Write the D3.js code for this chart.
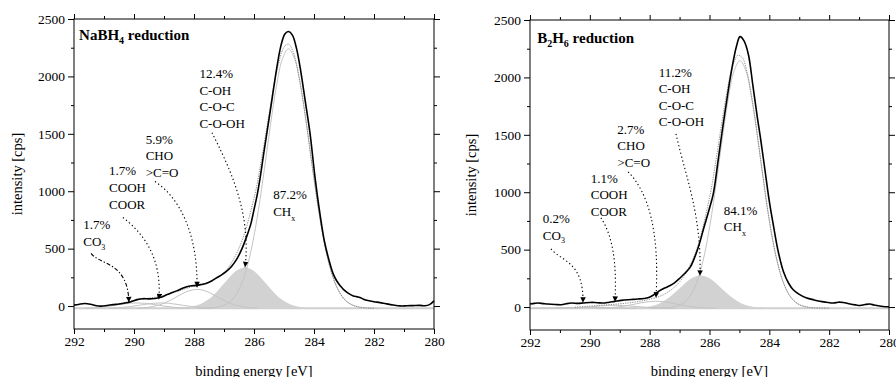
<!DOCTYPE html>
<html><head><meta charset="utf-8">
<script src="https://cdn.jsdelivr.net/npm/d3@7"></script>
<style>
body{margin:0;background:#fff}
svg text{font-family:"Liberation Serif","Times New Roman",serif;fill:#000}
</style></head><body>
<svg id="chart" width="896" height="377"></svg>
<script>
// ---------- shared axis data ----------
const xDomain = [292, 280];
const yDomain = [-200, 2500];
const xMajorTicks = [292, 290, 288, 286, 284, 282, 280];
const xMinorTicks = [291, 289, 287, 285, 283, 281];
const yMajorTicks = [0, 500, 1000, 1500, 2000, 2500];
const yMinorTicks = [250, 750, 1250, 1750, 2250];
const xTitle = "binding energy [eV]";
const yTitle = "intensity [cps]";

// ---------- left panel: NaBH4 reduction ([binding energy, intensity]) ----------
const leftTitle = "NaBH_4 reduction";
const leftBaseline = -20;
const leftMeasured = [[292.0,8],[291.85,14],[291.65,22],[291.45,16],[291.25,2],[291.1,-1],[290.9,5],[290.7,12],[290.5,18],[290.3,26],[290.1,38],[289.9,56],[289.7,64],[289.5,62],[289.3,66],[289.1,76],[288.9,100],[288.75,115],[288.58,132],[288.4,152],[288.24,168],[288.08,176],[287.91,180],[287.75,188],[287.58,198],[287.4,220],[287.24,247],[287.08,272],[286.91,304],[286.75,345],[286.58,406],[286.4,500],[286.24,609],[286.1,720],[286.0,840],[285.9,960],[285.8,1110],[285.68,1320],[285.54,1560],[285.4,1800],[285.25,2060],[285.1,2270],[284.97,2370],[284.85,2391],[284.72,2360],[284.58,2240],[284.45,2060],[284.3,1800],[284.13,1500],[283.97,1130],[283.8,800],[283.65,560],[283.5,400],[283.36,280],[283.24,218],[283.12,175],[283.02,145],[282.85,110],[282.69,88],[282.55,80],[282.47,74],[282.35,60],[282.24,50],[282.0,38],[281.8,30],[281.6,20],[281.36,9],[281.13,1],[280.9,2],[280.7,4],[280.47,6],[280.3,2],[280.15,12],[280.0,45]];
const leftSum = [[290.5,18],[290.0,48],[289.5,69],[289.0,91],[288.5,132],[288.0,175],[287.5,207],[287.0,290],[286.5,505],[286.0,938],[285.75,1278],[285.5,1669],[285.25,2033],[285.0,2255],[284.85,2282],[284.7,2218],[284.5,2001],[284.25,1584],[284.0,1108],[283.75,684],[283.5,370],[283.25,172],[283.0,63],[282.75,12],[282.5,-9],[282.0,-20]];
const leftCH = [[287.85,-20],[287.45,-17],[287.15,-6],[286.85,27],[286.65,79],[286.45,172],[286.25,321],[286.05,543],[285.85,841],[285.65,1199],[285.45,1579],[285.25,1918],[285.05,2155],[284.85,2241],[284.65,2155],[284.45,1918],[284.25,1579],[284.05,1199],[283.85,841],[283.65,543],[283.45,321],[283.25,172],[283.05,79],[282.85,27],[282.55,-6],[282.25,-17],[281.85,-20]];
const leftCO = [[288.7,-19],[288.3,-14],[288.05,-4],[287.8,15],[287.55,52],[287.3,108],[287.05,180],[286.8,255],[286.55,313],[286.3,335],[286.05,313],[285.8,255],[285.55,180],[285.3,108],[285.05,52],[284.8,15],[284.55,-4],[284.3,-14],[283.9,-19]];
const leftCHO = [[289.9,-18],[289.65,-14],[289.4,-5.5],[289.15,10.5],[288.9,36],[288.65,70],[288.4,106],[288.15,134],[287.9,145],[287.65,134],[287.4,106],[287.15,70],[286.9,36],[286.65,10.5],[286.4,-5.5],[286.15,-14],[285.9,-18]];
const leftCOOH = [[290.85,-18.3],[290.6,-15.9],[290.35,-11.3],[290.1,-4.1],[289.85,5.6],[289.6,15.9],[289.35,24],[289.1,27],[288.85,24],[288.6,15.9],[288.35,5.6],[288.1,-4.1],[287.85,-11.3],[287.6,-15.9],[287.35,-18.3]];
const leftCO3 = [[291.65,-18.3],[291.4,-15.9],[291.15,-11.3],[290.9,-4.1],[290.65,5.6],[290.4,15.9],[290.15,24],[289.9,27],[289.65,24],[289.4,15.9],[289.15,5.6],[288.9,-4.1],[288.65,-11.3],[288.4,-15.9],[288.15,-18.3]];
const leftLabels = [
  {e:287.82, v:1986, lines:["12.4%","C-OH","C-O-C","C-O-OH"]},
  {e:289.61, v:1415, lines:["5.9%","CHO",">C=O"]},
  {e:290.83, v:1137, lines:["1.7%","COOH","COOR"]},
  {e:291.69, v:667,  lines:["1.7%","CO_3"]},
  {e:285.36, v:928,  lines:["87.2%","CH_x"]}
];
const leftArrows = [
  {pts:[[287.4,1510],[286.87,1232],[286.07,823],[286.3,337]], dash:"1.3,2.6"},
  {pts:[[289.3,1084],[288.47,945],[287.87,623],[287.9,163]], dash:"1.3,2.6"},
  {pts:[[290.37,771],[289.63,623],[289.07,406],[289.17,58]], dash:"1.3,2.6"},
  {pts:[[291.43,458],[291.13,354],[290.2,389],[290.17,32]], dash:"4,2,1.3,2"}
];

// ---------- right panel: B2H6 reduction ----------
const rightTitle = "B_2H_6 reduction";
const rightBaseline = -10;
const rightMeasured = [[292.0,26],[291.85,32],[291.73,35],[291.55,30],[291.4,26],[291.15,22],[290.95,20],[290.8,28],[290.62,35],[290.4,32],[290.23,35],[290.0,40],[289.84,40],[289.65,36],[289.5,35],[289.35,42],[289.17,49],[288.95,58],[288.72,64],[288.55,67],[288.39,70],[288.2,74],[288.06,80],[287.9,100],[287.78,122],[287.65,145],[287.5,165],[287.33,185],[287.16,212],[287.0,250],[286.83,292],[286.65,345],[286.5,430],[286.35,540],[286.2,680],[286.0,860],[285.87,990],[285.7,1300],[285.56,1560],[285.4,1840],[285.25,2080],[285.1,2270],[284.98,2355],[284.85,2320],[284.7,2200],[284.55,1930],[284.4,1650],[284.3,1480],[284.15,1200],[284.0,920],[283.85,690],[283.7,480],[283.53,310],[283.35,205],[283.2,150],[283.0,110],[282.75,78],[282.5,62],[282.31,50],[282.1,42],[281.86,35],[281.7,42],[281.53,40],[281.3,26],[281.1,18],[280.97,14],[280.8,22],[280.64,26],[280.5,18],[280.41,14],[280.2,5],[280.0,3]];
const rightSum = [[290.5,-1],[290.0,7.5],[289.5,18],[289.0,28],[288.5,43],[288.0,68],[287.5,113],[287.0,219],[286.5,451],[286.0,952],[285.75,1335],[285.5,1748],[285.25,2075],[285.05,2193],[284.9,2170],[284.75,2051],[284.5,1682],[284.25,1205],[284.0,753],[283.75,410],[283.5,192],[283.25,75],[283.0,21],[282.75,0],[282.5,-7],[282.0,-10]];
const rightCH = [[287.98,-10],[287.58,-8.5],[287.28,-3],[286.98,18],[286.78,55],[286.58,125],[286.38,249],[286.18,445],[285.98,721],[285.78,1070],[285.58,1452],[285.38,1803],[285.18,2055],[284.98,2146],[284.78,2055],[284.58,1803],[284.38,1452],[284.18,1070],[283.98,721],[283.78,445],[283.58,249],[283.38,125],[283.18,55],[282.98,18],[282.68,-3],[282.38,-8.5],[281.98,-10]];
const rightCO = [[288.7,-9],[288.3,-5],[288.05,2.5],[287.8,18.5],[287.55,48],[287.3,93],[287.05,150],[286.8,211],[286.55,257],[286.3,275],[286.05,257],[285.8,211],[285.55,150],[285.3,93],[285.05,48],[284.8,18.5],[284.55,2.5],[284.3,-5],[283.9,-9]];
const rightCHO = [[289.8,-9.2],[289.55,-7.8],[289.3,-4.7],[289.05,1.1],[288.8,10.3],[288.55,22.6],[288.3,36],[288.05,46],[287.8,50],[287.55,46],[287.3,36],[287.05,22.6],[286.8,10.3],[286.55,1.1],[286.3,-4.7],[286.05,-7.8],[285.8,-9.2]];
const rightCOOH = [[291.15,-9.7],[290.9,-9.1],[290.65,-7.8],[290.4,-5.4],[290.15,-1.5],[289.9,3.6],[289.65,9.1],[289.4,13.4],[289.15,15],[288.9,13.4],[288.65,9.1],[288.4,3.6],[288.15,-1.5],[287.9,-5.4],[287.65,-7.8],[287.4,-9.1],[287.15,-9.7]];
const rightCO3 = [[291.95,-9.8],[291.45,-8.9],[291.0,-6.7],[290.7,-5.0],[290.45,-4.4],[290.2,-4],[289.95,-4.4],[289.7,-5.0],[289.4,-6.7],[288.95,-8.9],[288.45,-9.8]];
const rightLabels = [
  {e:287.70, v:2007, lines:["11.2%","C-OH","C-O-C","C-O-OH"]},
  {e:289.08, v:1508, lines:["2.7%","CHO",">C=O"]},
  {e:289.97, v:1084, lines:["1.1%","COOH","COOR"]},
  {e:291.57, v:731,  lines:["0.2%","CO_3"]},
  {e:285.52, v:803,  lines:["84.1%","CH_x"]}
];
const rightArrows = [
  {pts:[[287.12,1508],[286.82,1151],[286.25,803],[286.32,272]], dash:"1.3,2.6"},
  {pts:[[288.72,1177],[288.06,1003],[287.66,673],[287.79,81]], dash:"1.3,2.6"},
  {pts:[[289.63,777],[289.26,629],[289.09,412],[289.16,46]], dash:"1.3,2.6"},
  {pts:[[291.3,507],[290.93,394],[290.2,394],[290.23,37]], dash:"1.3,2.6"}
];

// ---------- drawing ----------
const svg = d3.select("#chart");
const defs = svg.append("defs");
defs.append("marker").attr("id","arrowHead")
  .attr("viewBox","0 0 10 10").attr("refX",10).attr("refY",5)
  .attr("markerWidth",7).attr("markerHeight",5.5)
  .attr("markerUnits","userSpaceOnUse").attr("orient","auto")
  .append("path").attr("d","M0,0 L10,5 L0,10 z").attr("fill","#000");

function richText(sel, str, sub) {
  let shift = 0;
  str.split(/(_.)/).filter(s => s).forEach(p => {
    if (p[0] === "_") {
      sel.append("tspan").attr("dy", sub.dy - shift).attr("font-size", sub.size).text(p[1]);
      shift = sub.dy;
    } else {
      sel.append("tspan").attr("dy", -shift).text(p);
      shift = 0;
    }
  });
}

function drawPanel(cfg) {
  const {box} = cfg;
  const x = d3.scaleLinear().domain(xDomain).range([box.x0, box.x1]);
  const y = d3.scaleLinear().domain(yDomain).range([box.y1, box.y0]);
  const g = svg.append("g");
  const line = d3.line().x(d => x(d[0])).y(d => y(d[1])).curve(d3.curveCatmullRom.alpha(0.5));

  // baseline of the fit
  g.append("line").attr("x1", x(xDomain[0])).attr("x2", x(xDomain[1]))
    .attr("y1", y(cfg.baseline)).attr("y2", y(cfg.baseline))
    .attr("stroke", "#cfcfcf").attr("stroke-width", 2);

  // filled C-O component
  const area = d3.area().x(d => x(d[0])).y0(y(cfg.baseline)).y1(d => y(d[1])).curve(d3.curveCatmullRom.alpha(0.5));
  g.append("path").datum(cfg.filled).attr("d", area).attr("fill", "#d2d2d2");

  // component lines
  cfg.components.forEach(c => {
    g.append("path").datum(c).attr("d", line).attr("fill", "none")
      .attr("stroke", "#c4c4c4").attr("stroke-width", 1);
  });
  // sum envelope (dotted)
  g.append("path").datum(cfg.sum).attr("d", line).attr("fill", "none")
    .attr("stroke", "#8a8a8a").attr("stroke-width", 1).attr("stroke-dasharray", "1.2,1.2");
  // measured spectrum
  g.append("path").datum(cfg.measured).attr("d", line).attr("fill", "none")
    .attr("stroke", "#000").attr("stroke-width", 1.6).attr("stroke-linejoin", "round");

  // frame
  g.append("rect").attr("x", box.x0).attr("y", box.y0)
    .attr("width", box.x1 - box.x0).attr("height", box.y1 - box.y0)
    .attr("fill", "none").attr("stroke", "#000").attr("stroke-width", 1);

  const tickFont = 13.5;
  const styleAxis = a => { a.select(".domain").remove(); a.selectAll("line").attr("stroke","#000"); a.selectAll("text").attr("font-family", null).attr("font-size", tickFont); };
  // bottom
  g.append("g").attr("transform", `translate(0,${box.y1})`)
    .call(d3.axisBottom(x).tickValues(xMajorTicks).tickSize(5).tickPadding(2).tickFormat(d3.format("d"))).call(styleAxis);
  g.append("g").attr("transform", `translate(0,${box.y1})`)
    .call(d3.axisBottom(x).tickValues(xMinorTicks).tickSize(3).tickFormat("")).call(styleAxis);
  // top
  g.append("g").attr("transform", `translate(0,${box.y0})`)
    .call(d3.axisTop(x).tickValues(xMajorTicks).tickSize(5).tickFormat("")).call(styleAxis);
  g.append("g").attr("transform", `translate(0,${box.y0})`)
    .call(d3.axisTop(x).tickValues(xMinorTicks).tickSize(3).tickFormat("")).call(styleAxis);
  // left
  g.append("g").attr("transform", `translate(${box.x0},0)`)
    .call(d3.axisLeft(y).tickValues(yMajorTicks).tickSize(6).tickPadding(3).tickFormat(d3.format("d"))).call(styleAxis);
  g.append("g").attr("transform", `translate(${box.x0},0)`)
    .call(d3.axisLeft(y).tickValues(yMinorTicks).tickSize(3).tickFormat("")).call(styleAxis);
  // right
  g.append("g").attr("transform", `translate(${box.x1},0)`)
    .call(d3.axisRight(y).tickValues(yMajorTicks).tickSize(6).tickFormat("")).call(styleAxis);
  g.append("g").attr("transform", `translate(${box.x1},0)`)
    .call(d3.axisRight(y).tickValues(yMinorTicks).tickSize(3).tickFormat("")).call(styleAxis);

  // axis titles
  g.append("text").attr("x", (box.x0 + box.x1) / 2).attr("y", 376)
    .attr("text-anchor", "middle").attr("font-size", 14.5).text(xTitle);
  g.append("text").attr("transform", `translate(${cfg.yTitleX},${(box.y0 + box.y1) / 2}) rotate(-90)`)
    .attr("text-anchor", "middle").attr("font-size", 14.5).text(yTitle);

  // panel title
  const t = g.append("text").attr("x", x(cfg.titlePos[0])).attr("y", y(cfg.titlePos[1]))
    .attr("font-size", 15).attr("font-weight", "bold");
  richText(t, cfg.title, {dy: 4, size: 10});

  // labels
  cfg.labels.forEach(l => {
    l.lines.forEach((s, i) => {
      const tx = g.append("text").attr("x", x(l.e)).attr("y", y(l.v) + i * 16.6).attr("font-size", 13);
      richText(tx, s, {dy: s.startsWith("CH") ? 5 : 3.5, size: 8});
    });
  });

  // arrows
  cfg.arrows.forEach(a => {
    const p = a.pts.map(d => [x(d[0]), y(d[1])]);
    g.append("path")
      .attr("d", `M${p[0][0]},${p[0][1]} C${p[1][0]},${p[1][1]} ${p[2][0]},${p[2][1]} ${p[3][0]},${p[3][1]}`)
      .attr("fill", "none").attr("stroke", "#000").attr("stroke-width", 1.1)
      .attr("stroke-dasharray", a.dash).attr("marker-end", "url(#arrowHead)");
  });
}

drawPanel({
  box: {x0: 74, x1: 434, y0: 19, y1: 329},
  yTitleX: 22,
  baseline: leftBaseline, measured: leftMeasured, sum: leftSum,
  filled: leftCO, components: [leftCO3, leftCOOH, leftCHO, leftCH],
  title: leftTitle, titlePos: [291.83, 2313],
  labels: leftLabels, arrows: leftArrows
});
drawPanel({
  box: {x0: 530, x1: 889, y0: 20, y1: 330},
  yTitleX: 476,
  baseline: rightBaseline, measured: rightMeasured, sum: rightSum,
  filled: rightCO, components: [rightCO3, rightCOOH, rightCHO, rightCH],
  title: rightTitle, titlePos: [291.76, 2300],
  labels: rightLabels, arrows: rightArrows
});
</script>
</body></html>
